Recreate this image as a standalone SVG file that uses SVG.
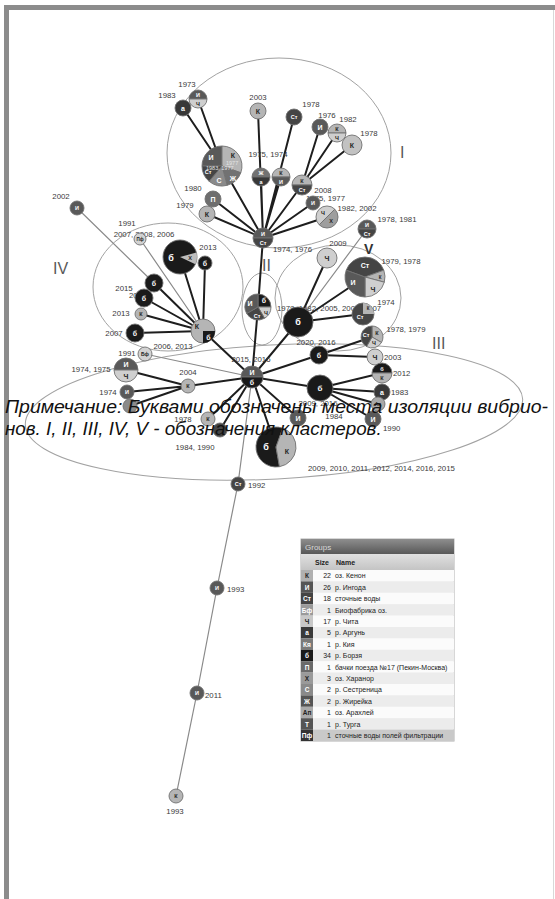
<svg xmlns="http://www.w3.org/2000/svg" width="555" height="899" viewBox="0 0 555 899">
<defs>
<linearGradient id="hdr" x1="0" y1="0" x2="0" y2="1"><stop offset="0" stop-color="#8e8e8e"/><stop offset="1" stop-color="#585858"/></linearGradient>
<linearGradient id="colh" x1="0" y1="0" x2="0" y2="1"><stop offset="0" stop-color="#e0e0e0"/><stop offset="1" stop-color="#c4c4c4"/></linearGradient>
<style>
.cl{fill:none;stroke:#a2a2a2;stroke-width:1}
.e{stroke:#1e1e1e;stroke-width:2;fill:none;stroke-linecap:round}
.t{stroke:#8a8a8a;stroke-width:1.2;fill:none}
.n{stroke:#707070;stroke-width:0.9}
.lb{font-family:"Liberation Sans",Arial,sans-serif;font-size:7.8px;fill:#3a3a3a;text-anchor:middle}
.ls{font-family:"Liberation Sans",Arial,sans-serif;font-size:7.8px;fill:#3a3a3a}
.k{font-family:"Liberation Sans",Arial,sans-serif;font-size:7px;font-weight:bold;text-anchor:middle;dominant-baseline:central}
.s5{font-size:5.5px}
.wt{fill:#fff}.dk{fill:#222}
.cK{fill:#b5b5b5}.cI{fill:#595959}.cSt{fill:#454545}.cCh{fill:#cfcfcf}.cB{fill:#1a1a1a}.cP{fill:#6e6e6e}.cX{fill:#9e9e9e}.cS{fill:#8a8a8a}.cZh{fill:#727272}.cBf{fill:#d2d2d2}.cA{fill:#383838}.cAp{fill:#a9a9a9}
.cn{font-family:"Liberation Sans",Arial,sans-serif;font-size:16px;fill:#5a5a5a}
.note{font-family:"Liberation Sans",Arial,sans-serif;font-size:18.8px;font-style:italic;fill:#111}
.lg{font-family:"Liberation Sans",Arial,sans-serif;font-size:7px;fill:#222}
.lgi{font-family:"Liberation Sans",Arial,sans-serif;font-size:6.5px;font-weight:bold;text-anchor:middle}
</style>
</defs>
<rect width="555" height="899" fill="#fff"/>
<g id="frame">
<rect x="4" y="5" width="551" height="5" fill="#8c8c8c"/>
<rect x="4" y="5" width="5" height="894" fill="#8c8c8c"/>
<line x1="553.5" y1="10" x2="553.5" y2="899" stroke="#d8d8d8"/>
</g>
<g id="clusters">
<ellipse class="cl" cx="279" cy="153" rx="112" ry="95"/>
<ellipse class="cl" cx="168" cy="287" rx="75" ry="64"/>
<ellipse class="cl" cx="262" cy="309" rx="20" ry="36"/>
<ellipse class="cl" cx="338" cy="298" rx="63" ry="53"/>
<ellipse class="cl" cx="274" cy="412" rx="249" ry="67" transform="rotate(-3 274 412)"/>
<text class="cn" x="400" y="158">I</text>
<text class="cn" x="262" y="271">II</text>
<text class="cn" x="432" y="349">III</text>
<text class="cn" x="53" y="274">IV</text>
<text class="cn" x="364" y="254" style="font-size:14px;font-weight:bold;fill:#333">V</text>
</g>
<g id="edges">
<path class="e" d="M198 99L222 166M183 108L222 166M222 166L263 238M258 111L263 238M294 117L263 238M261 177L263 238M281 177L263 238M320 127L302 185M337 133L302 185M352 145L302 185M302 185L263 238M313 203L263 238M327 217L263 238M213 199L263 238M207 214L263 238M263 238L258 307M258 307L252 377"/>
<path class="t" d="M77 208L154 283M140 239L203 331M367 229L298 322M145 354L252 377"/>
<path class="e" d="M180 257L203 331M205 263L203 331M154 283L203 331M144 298L203 331M141 314L203 331M135 333L203 331M203 331L252 377"/>
<path class="e" d="M327 258L298 322M365 277L298 322M363 314L298 322M372 337L319 355M298 322L252 377"/>
<path class="e" d="M252 377L188 386M126 370L188 386M127 392L188 386M130 406L188 386M252 377L208 419M252 377L220 430M252 377L319 355M319 355L375 357M252 377L320 388M320 388L382 373M320 388L382 392M320 388L378 404M320 388L373 419M252 377L298 418M252 377L276 447"/>
<path class="t" d="M252 377L238 484L217 588L197 693L176 796"/>
</g>
<g id="n-pie1">
<text class="lb" x="187" y="87">1973</text>
<path class="cI n" d="M222 166L202 166A20 20 0 0 1 222 146Z"/>
<path class="cK n" d="M222 166L222 146A20 20 0 0 1 240.8 172.8Z"/>
<path class="cZh n" d="M222 166L240.8 172.8A20 20 0 0 1 227.2 185.3Z"/>
<path class="cS n" d="M222 166L227.2 185.3A20 20 0 0 1 209.1 181.3Z"/>
<path class="cSt n" d="M222 166L209.1 181.3A20 20 0 0 1 202 166Z"/>
<text class="k wt" x="211" y="157">И</text><text class="k dk" x="233" y="155">К</text><text class="k wt" x="233" y="178">Ж</text><text class="k wt" x="219" y="180">С</text><text class="k wt s5" x="208" y="172">Ст</text>
<text class="ls" x="226" y="165" style="font-size:5.5px;fill:#e4e4e4">1977</text>
<text class="ls" x="206" y="170" style="font-size:5.5px;fill:#e4e4e4">1983, 1977</text>
</g>
<g id="n1973"><path class="cI n" d="M189 99A9 9 0 0 1 207 99Z"/><path class="cCh n" d="M189 99A9 9 0 0 0 207 99Z"/><text class="k wt s5" x="198" y="95">И</text><text class="k dk s5" x="198" y="103.5">Ч</text></g>
<g id="n1983"><text class="lb" x="167" y="98">1983</text><circle class="cA n" cx="183" cy="108" r="8"/><text class="k wt" x="183" y="108">а</text></g>
<g id="n2003"><text class="lb" x="258" y="100">2003</text><circle class="cK n" cx="258" cy="111" r="8"/><text class="k dk" x="258" y="111">К</text></g>
<g id="n1978a"><text class="lb" x="311" y="107">1978</text><circle class="cSt n" cx="294" cy="117" r="8"/><text class="k wt s5" x="294" y="117">Ст</text></g>
<g id="n1976"><text class="lb" x="327" y="118">1976</text><circle class="cI n" cx="320" cy="127" r="8"/><text class="k wt" x="320" y="127">И</text></g>
<g id="n1982"><text class="lb" x="348" y="122">1982</text><path class="cK n" d="M328 133A9 9 0 0 1 346 133Z"/><path class="cCh n" d="M328 133A9 9 0 0 0 346 133Z"/><text class="k dk s5" x="337" y="129">К</text><text class="k dk s5" x="337" y="137.5">Ч</text></g>
<g id="n1978b"><text class="lb" x="369" y="136">1978</text><circle class="n" fill="#c2c2c2" cx="352" cy="145" r="10"/><text class="k dk" x="352" y="145">К</text></g>
<g id="nZhA"><text class="lb" x="268" y="157">1975, 1974</text><path class="cZh n" d="M252 177A9 9 0 0 1 270 177Z"/><path class="cA n" d="M252 177A9 9 0 0 0 270 177Z"/><text class="k wt s5" x="261" y="173">Ж</text><text class="k wt s5" x="261" y="181.5">а</text></g>
<g id="nKI"><path class="cK n" d="M272 177A9 9 0 0 1 290 177Z"/><path class="cI n" d="M272 177A9 9 0 0 0 290 177Z"/><text class="k dk s5" x="281" y="173">К</text><text class="k wt s5" x="281" y="181.5">И</text></g>
<g id="nKSt"><path class="cK n" d="M292 185A10 10 0 0 1 312 185Z"/><path class="cSt n" d="M292 185A10 10 0 0 0 312 185Z"/><text class="k dk s5" x="302" y="180.5">К</text><text class="k wt s5" x="302" y="189.5">Ст</text></g>
<g id="n2008"><text class="lb" x="323" y="193">2008</text><text class="ls" x="306" y="201">1975, 1977</text><circle class="cI n" cx="313" cy="203" r="7"/><text class="k wt s5" x="313" y="203">И</text></g>
<g id="n19822002"><text class="lb" x="357" y="211">1982, 2002</text><path class="cCh n" d="M327 217L319.2 224.8A11 11 0 0 1 334.8 209.2Z"/><path class="cX n" d="M327 217L334.8 209.2A11 11 0 0 1 319.2 224.8Z"/><text class="k dk s5" x="323" y="213">Ч</text><text class="k dk s5" x="331" y="221">Х</text></g>
<g id="n1980"><text class="lb" x="193" y="191">1980</text><circle class="cP n" cx="213" cy="199" r="8"/><text class="k wt" x="213" y="199">П</text></g>
<g id="n1979"><text class="lb" x="185" y="208">1979</text><circle class="cK n" cx="207" cy="214" r="8"/><text class="k dk" x="207" y="214">К</text></g>
<g id="hub1"><text class="ls" x="273" y="252">1974, 1976</text><path class="cI n" d="M253 238A10 10 0 0 1 273 238Z"/><path class="cSt n" d="M253 238A10 10 0 0 0 273 238Z"/><text class="k wt s5" x="263" y="233.5">И</text><text class="k wt s5" x="263" y="242.5">Ст</text></g>
<g id="n2002"><text class="lb" x="61" y="199">2002</text><circle class="cI n" cx="77" cy="208" r="7"/><text class="k wt s5" x="77" y="208">И</text></g>
<g id="nPf"><text class="lb" x="127" y="226">1991</text><text class="lb" x="144" y="237">2007, 2008, 2006</text><circle class="cBf n" cx="140" cy="239" r="6"/><text class="k dk" x="140" y="239" style="font-size:4.5px">Пф</text></g>
<g id="nBig4"><text class="lb" x="208" y="250">2013</text><circle class="cB n" cx="180" cy="257" r="17"/><path fill="#bdbdbd" d="M180 257L196.4 252.6A17 17 0 0 1 195.4 264.2Z"/><text class="k wt" x="171" y="258" style="font-size:9px">б</text><text class="k dk s5" x="190" y="258">Х</text></g>
<g id="nB2013"><circle class="cB n" cx="205" cy="263" r="7"/><text class="k wt" x="205" y="263">б</text></g>
<g id="nB4a"><circle class="cB n" cx="154" cy="283" r="9"/><text class="k wt" x="154" y="283">б</text></g>
<g id="nB4b"><text class="lb" x="124" y="291">2015</text><text class="ls" x="129" y="298">2016</text><circle class="cB n" cx="144" cy="298" r="9"/><text class="k wt" x="144" y="298">б</text></g>
<g id="nK2013"><text class="lb" x="121" y="316">2013</text><circle class="cK n" cx="141" cy="314" r="6"/><text class="k dk s5" x="141" y="314">К</text></g>
<g id="nB2007"><text class="lb" x="114" y="336">2007</text><circle class="cB n" cx="135" cy="333" r="9"/><text class="k wt" x="135" y="333">б</text></g>
<g id="hub4"><text class="lb" x="173" y="349">2006, 2013</text><circle class="cK n" cx="203" cy="331" r="12"/><path class="cB" d="M203 331L215 331A12 12 0 0 1 203 343Z"/><text class="k dk" x="197" y="326">К</text><text class="k wt" x="208.5" y="337">б</text></g>
<g id="n2"><path class="cB n" d="M258 307L258 294A13 13 0 0 1 271 307Z"/><path class="cCh n" d="M258 307L271 307A13 13 0 0 1 264.5 318.3Z"/><path class="cSt n" d="M258 307L264.5 318.3A13 13 0 0 1 246.7 313.5Z"/><path class="cI n" d="M258 307L246.7 313.5A13 13 0 0 1 258 294Z"/><text class="k wt" x="264" y="300">б</text><text class="k wt" x="250" y="303">И</text><text class="k dk s5" x="266" y="313">Ч</text><text class="k wt s5" x="257" y="316">Ст</text></g>
<g id="n19781981"><text class="lb" x="397" y="222">1978, 1981</text><path class="cI n" d="M358 229A9 9 0 0 1 376 229Z"/><path class="cSt n" d="M358 229A9 9 0 0 0 376 229Z"/><text class="k wt s5" x="367" y="225">И</text><text class="k wt s5" x="367" y="233.5">Ст</text></g>
<g id="n2009"><text class="lb" x="338" y="246">2009</text><circle class="cCh n" cx="327" cy="258" r="10"/><text class="k dk" x="327" y="258">Ч</text></g>
<g id="nBigV"><text class="lb" x="401" y="264">1979, 1978</text><path class="cSt n" d="M365 277L346.2 270.2A20 20 0 0 1 383.8 270.2Z"/><path class="cK n" d="M365 277L383.8 270.2A20 20 0 0 1 384.3 282.2Z"/><path class="cCh n" d="M365 277L384.3 282.2A20 20 0 0 1 365 297Z"/><path class="cI n" d="M365 277L365 297A20 20 0 0 1 346.2 270.2Z"/><text class="k wt" x="365" y="265">Ст</text><text class="k wt" x="353" y="282">И</text><text class="k dk" x="373" y="289">Ч</text><text class="k dk" x="380" y="277" style="font-size:4.5px">К</text></g>
<g id="nBigB5"><text class="ls" x="277" y="311">1978, 1982, 2005, 2006, 2007</text><text class="lb" x="316" y="345">2020, 2016</text><circle class="cB n" cx="298" cy="322" r="15"/><text class="k wt" x="298" y="322" style="font-size:9px">б</text></g>
<g id="n1974V"><text class="lb" x="386" y="305">1974</text><circle class="cSt n" cx="363" cy="314" r="11"/><path class="cK" d="M363 314L363 303A11 11 0 0 1 374 314Z"/><text class="k wt s5" x="360" y="317">Ст</text><text class="k dk" x="368" y="308" style="font-size:4.5px">К</text></g>
<g id="n19781979"><text class="lb" x="406" y="332">1978, 1979</text><path class="cK n" d="M372 337L372 326A11 11 0 0 1 381.5 342.5Z"/><path class="cCh n" d="M372 337L381.5 342.5A11 11 0 0 1 366.5 346.5Z"/><path class="cSt n" d="M372 337L366.5 346.5A11 11 0 0 1 372 326Z"/><text class="k dk s5" x="377" y="333">К</text><text class="k dk s5" x="374" y="343">Ч</text><text class="k wt s5" x="366" y="335">Ст</text></g>
<g id="nBf1991"><text class="lb" x="127" y="356">1991</text><circle class="cBf n" cx="145" cy="354" r="7"/><text class="k dk" x="145" y="354" style="font-size:5px">Бф</text></g>
<g id="n19741975"><text class="lb" x="91" y="372">1974, 1975</text><path class="cI n" d="M114 370A12 12 0 0 1 138 370Z"/><path class="cCh n" d="M114 370A12 12 0 0 0 138 370Z"/><text class="k wt" x="126" y="364.5">И</text><text class="k dk" x="126" y="376">Ч</text></g>
<g id="n2004"><text class="lb" x="188" y="375">2004</text><circle class="cK n" cx="188" cy="386" r="7"/><text class="k dk s5" x="188" y="386">К</text></g>
<g id="n1974"><text class="lb" x="108" y="395">1974</text><circle class="cI n" cx="127" cy="392" r="7"/><text class="k wt s5" x="127" y="392">И</text></g>
<g id="nX"><circle class="cS n" cx="130" cy="406" r="7"/></g>
<g id="nK1978"><text class="lb" x="183" y="422">1978</text><circle class="cK n" cx="208" cy="419" r="7"/><text class="k dk s5" x="208" y="419">К</text></g>
<g id="nD"><circle class="cSt n" cx="220" cy="430" r="7"/></g>
<g id="nB3"><circle class="cB n" cx="319" cy="355" r="9"/><text class="k wt" x="319" y="355">б</text></g>
<g id="nCh2003"><text class="ls" x="384" y="360">2003</text><circle class="cCh n" cx="375" cy="357" r="8"/><text class="k dk" x="375" y="357">Ч</text></g>
<g id="n2012"><text class="ls" x="393" y="376">2012</text><path class="cB n" d="M372 373A10 10 0 0 1 392 373Z"/><path class="cK n" d="M372 373A10 10 0 0 0 392 373Z"/><text class="k wt s5" x="382" y="368.5">б</text><text class="k dk s5" x="382" y="377.5">К</text></g>
<g id="nBigB3"><text class="lb" x="318" y="406">2009, 2016</text><circle class="cB n" cx="320" cy="388" r="13"/><text class="k wt" x="320" y="388" style="font-size:8px">б</text></g>
<g id="n1983b"><text class="ls" x="391" y="395">1983</text><circle class="cA n" cx="382" cy="392" r="8"/><text class="k wt" x="382" y="392">а</text></g>
<g id="nAp"><circle class="cAp n" cx="378" cy="404" r="7"/><text class="k dk" x="378" y="404" style="font-size:4.5px">Ап</text></g>
<g id="nI1990"><text class="ls" x="383" y="431">1990</text><circle class="cI n" cx="373" cy="419" r="8"/><text class="k wt" x="373" y="419">И</text></g>
<g id="nI1984"><text class="lb" x="334" y="419">1984</text><circle class="cI n" cx="298" cy="418" r="8"/><text class="k wt" x="298" y="418">И</text></g>
<g id="nPie3"><text class="lb" x="195" y="450">1984, 1990</text><text class="ls" x="308" y="471">2009, 2010, 2011, 2012, 2014, 2016, 2015</text><path class="cB n" d="M276 447L279.5 466.7A20 20 0 1 1 282.8 428.2Z"/><path class="cK n" d="M276 447L282.8 428.2A20 20 0 0 1 279.5 466.7Z"/><text class="k wt" x="266" y="447" style="font-size:9px">б</text><text class="k dk" x="287" y="451">К</text></g>
<g id="hubM"><text class="lb" x="251" y="362">2015, 2016</text><path class="cI n" d="M241 377A11 11 0 0 1 263 377Z"/><path class="cB n" d="M241 377A11 11 0 0 0 263 377Z"/><text class="k wt" x="252" y="372">И</text><text class="k wt" x="252" y="382.5">б</text></g>
<g id="n1992"><text class="ls" x="248" y="488">1992</text><circle class="cSt n" cx="238" cy="484" r="7"/><text class="k wt s5" x="238" y="484">Ст</text></g>
<g id="n1993a"><text class="ls" x="227" y="592">1993</text><circle class="cI n" cx="217" cy="588" r="7"/><text class="k wt s5" x="217" y="588">И</text></g>
<g id="n2011"><text class="ls" x="205" y="698">2011</text><circle class="cI n" cx="197" cy="693" r="7"/><text class="k wt s5" x="197" y="693">И</text></g>
<g id="n1993b"><text class="lb" x="175" y="814">1993</text><circle class="cK n" cx="176" cy="796" r="7"/><text class="k dk s5" x="176" y="796">К</text></g>
<g id="legend">
<rect x="301" y="539" width="153" height="202" fill="#f7f7f7" stroke="#b0b0b0"/>
<rect x="301" y="539" width="153" height="15" fill="url(#hdr)"/>
<text x="305" y="550" style="font-family:'Liberation Sans',Arial,sans-serif;font-size:8px;fill:#d8d8d8">Groups</text>
<rect x="301" y="554" width="153" height="16" fill="url(#colh)"/>
<text class="lg" x="315" y="565" style="font-weight:bold">Size</text>
<text class="lg" x="336" y="565" style="font-weight:bold">Name</text>
<g id="rows">
<rect x="313" y="570" width="141" height="11.4" fill="#fbfbfb"/>
<rect x="313" y="581.4" width="141" height="11.4" fill="#ececec"/>
<rect x="313" y="592.8" width="141" height="11.4" fill="#fbfbfb"/>
<rect x="313" y="604.2" width="141" height="11.4" fill="#ececec"/>
<rect x="313" y="615.6" width="141" height="11.4" fill="#fbfbfb"/>
<rect x="313" y="627" width="141" height="11.4" fill="#ececec"/>
<rect x="313" y="638.4" width="141" height="11.4" fill="#fbfbfb"/>
<rect x="313" y="649.8" width="141" height="11.4" fill="#ececec"/>
<rect x="313" y="661.2" width="141" height="11.4" fill="#fbfbfb"/>
<rect x="313" y="672.6" width="141" height="11.4" fill="#ececec"/>
<rect x="313" y="684" width="141" height="11.4" fill="#fbfbfb"/>
<rect x="313" y="695.4" width="141" height="11.4" fill="#ececec"/>
<rect x="313" y="706.8" width="141" height="11.4" fill="#fbfbfb"/>
<rect x="313" y="718.2" width="141" height="11.4" fill="#ececec"/>
<rect x="313" y="729.6" width="141" height="11.4" fill="#c9c9c9"/>
<rect x="301" y="570" width="12" height="11.4" fill="#b0b0b0"/>
<rect x="301" y="581.4" width="12" height="11.4" fill="#555"/>
<rect x="301" y="592.8" width="12" height="11.4" fill="#444"/>
<rect x="301" y="604.2" width="12" height="11.4" fill="#9a9a9a"/>
<rect x="301" y="615.6" width="12" height="11.4" fill="#c8c8c8"/>
<rect x="301" y="627" width="12" height="11.4" fill="#3a3a3a"/>
<rect x="301" y="638.4" width="12" height="11.4" fill="#7a7a7a"/>
<rect x="301" y="649.8" width="12" height="11.4" fill="#1a1a1a"/>
<rect x="301" y="661.2" width="12" height="11.4" fill="#6a6a6a"/>
<rect x="301" y="672.6" width="12" height="11.4" fill="#9a9a9a"/>
<rect x="301" y="684" width="12" height="11.4" fill="#8a8a8a"/>
<rect x="301" y="695.4" width="12" height="11.4" fill="#555"/>
<rect x="301" y="706.8" width="12" height="11.4" fill="#aaa"/>
<rect x="301" y="718.2" width="12" height="11.4" fill="#555"/>
<rect x="301" y="729.6" width="12" height="11.4" fill="#333"/>
<text class="lgi" x="307" y="578.3" fill="#222">К</text>
<text class="lgi" x="307" y="589.7" fill="#fff">И</text>
<text class="lgi" x="307" y="601.1" fill="#fff">Ст</text>
<text class="lgi" x="307" y="612.5" fill="#fff">Бф</text>
<text class="lgi" x="307" y="623.9" fill="#222">Ч</text>
<text class="lgi" x="307" y="635.3" fill="#fff">а</text>
<text class="lgi" x="307" y="646.7" fill="#fff">Кя</text>
<text class="lgi" x="307" y="658.1" fill="#fff">б</text>
<text class="lgi" x="307" y="669.5" fill="#fff">П</text>
<text class="lgi" x="307" y="680.9" fill="#222">Х</text>
<text class="lgi" x="307" y="692.3" fill="#fff">С</text>
<text class="lgi" x="307" y="703.7" fill="#fff">Ж</text>
<text class="lgi" x="307" y="715.1" fill="#222">Ап</text>
<text class="lgi" x="307" y="726.5" fill="#fff">Т</text>
<text class="lgi" x="307" y="737.9" fill="#fff">Пф</text>
<g class="lg" text-anchor="end">
<text x="331" y="578.3">22</text><text x="331" y="589.7">26</text><text x="331" y="601.1">18</text><text x="331" y="612.5">1</text><text x="331" y="623.9">17</text><text x="331" y="635.3">5</text><text x="331" y="646.7">1</text><text x="331" y="658.1">34</text><text x="331" y="669.5">1</text><text x="331" y="680.9">3</text><text x="331" y="692.3">2</text><text x="331" y="703.7">2</text><text x="331" y="715.1">1</text><text x="331" y="726.5">1</text><text x="331" y="737.9">1</text>
</g>
<g class="lg">
<text x="335" y="578.3">оз. Кенон</text><text x="335" y="589.7">р. Ингода</text><text x="335" y="601.1">сточные воды</text><text x="335" y="612.5">Биофабрика оз.</text><text x="335" y="623.9">р. Чита</text><text x="335" y="635.3">р. Аргунь</text><text x="335" y="646.7">р. Кия</text><text x="335" y="658.1">р. Борзя</text><text x="335" y="669.5">бачки поезда №17 (Пекин-Москва)</text><text x="335" y="680.9">оз. Харанор</text><text x="335" y="692.3">р. Сестреница</text><text x="335" y="703.7">р. Жирейка</text><text x="335" y="715.1">оз. Арахлей</text><text x="335" y="726.5">р. Турга</text><text x="335" y="737.9">сточные воды полей фильтрации</text>
</g>
</g>
</g>
<g id="note">
<text class="note" x="5" y="413" textLength="543" lengthAdjust="spacingAndGlyphs">Примечание: Буквами обозначены места изоляции вибрио-</text>
<text class="note" x="5" y="435">нов. I, II, III, IV, V - обозначения кластеров.</text>
</g>
</svg>
